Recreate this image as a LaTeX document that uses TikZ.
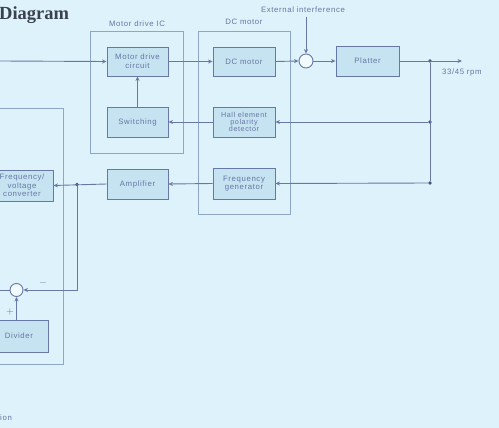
\documentclass[tikz,border=0pt]{standalone}
\usepackage{fontspec}
\setmainfont{Liberation Serif}
\newfontfamily\labfont[LetterSpace=8]{Liberation Sans}
\usetikzlibrary{arrows.meta,positioning}
\definecolor{bgc}{HTML}{DDF2FA}
\definecolor{boxfill}{HTML}{C6E3F1}
\definecolor{linec}{HTML}{6878A4}
\definecolor{outerc}{HTML}{8EA6C8}
\definecolor{txtc}{HTML}{6676A2}
\definecolor{titlec}{HTML}{3A4252}
\tikzset{
  blk/.style={draw=linec, fill=boxfill, line width=0.9pt, minimum width=#1, align=center,
    font=\labfont\fontsize{7.8}{8.6}\selectfont, text=txtc, inner sep=1pt},
  blk/.default=61pt,
  outerbox/.style={draw=outerc, line width=0.9pt},
  con/.style={draw=linec, line width=0.9pt},
  arr/.style={con, -{Stealth[length=4.5pt,width=4pt]}},
  sumc/.style={circle, draw=linec, fill=white!60!bgc, line width=0.9pt, inner sep=0pt, minimum size=#1},
  lab/.style={font=\labfont\fontsize{7.8}{8.6}\selectfont, text=txtc, inner sep=0pt},
  dot/.style={circle, fill=linec!70!black, inner sep=0pt, minimum size=3.6pt}
}
\begin{document}
\begin{tikzpicture}[x=1pt,y=-1pt]
\useasboundingbox (0,0) rectangle (499,428);
\fill[bgc] (0,0) rectangle (499,428);
\clip (0,0) rectangle (499,428);

% title
\node[anchor=west, font=\bfseries\fontsize{18.5}{19}\selectfont, text=titlec, inner sep=0pt] (title) at (-1,15.5) {Diagram};
\node[lab, anchor=west] (ion) at (0,418) {ion};

% outer boxes
\draw[outerbox] (90,31) rectangle (183,153);
\draw[outerbox] (198,31) rectangle (290,214);
\draw[outerbox] (-5,108) rectangle (63,364);
\node[lab] (iclab) at (137,24) {Motor drive IC};
\node[lab] (dclab) at (244,22) {DC motor};

% blocks
\node[blk, minimum height=29pt] (mdc) at (137.5,61.5) {Motor drive\\circuit};
\node[blk, minimum height=30pt] (sw) at (137.5,122) {Switching};
\node[blk=62pt, minimum height=29pt] (dcm) at (244,61.5) {DC motor};
\node[blk=62pt, minimum height=30pt, font=\labfont\fontsize{7.2}{7.4}\selectfont] (hall) at (244,122) {Hall element\\polarity\\detector};
\node[blk=62pt, minimum height=31pt] (fg) at (244,183.5) {Frequency\\generator};
\node[blk, minimum height=30pt] (amp) at (137.5,184) {Amplifier};
\node[blk=62pt, minimum height=31pt] (fv) at (22,185.5) {Frequency/\\voltage\\converter};
\node[blk=63pt, minimum height=30pt] (plat) at (367.5,61) {Platter};
\node[blk=58pt, minimum height=32pt] (div) at (19,336) {Divider};
\node[sumc=14pt] (s1) at (306,61) {};
\node[sumc=13pt] (s2) at (16.5,290) {};

% junctions
\node[dot] (j1) at (430,61) {};
\node[dot] (j2) at (430,122) {};
\node[dot] (j3) at (430,183) {};
\node[dot] (j4) at (77,184.5) {};
\coordinate (in) at (0,61);
\coordinate (out) at (462,61);
\coordinate (ext) at (306,17);
\coordinate (lout) at (0,290);

\node[lab] (extlab) at (303,10) {External interference};
\node[lab, anchor=west] (rpm) at (442,72) {33/45 rpm};
\node[lab, font=\fontsize{10}{10}\selectfont] (minus) at (43,283) {$-$};
\node[lab, font=\fontsize{10}{10}\selectfont] (plus) at (10,312) {$+$};

% connectors
\draw[arr] (in) -- (mdc.west);
\draw[arr] (mdc.east) -- (dcm.west);
\draw[arr] (dcm.east) -- (s1.west);
\draw[arr] (ext) -- (s1.north);
\draw[arr] (s1.east) -- (plat.west);
\draw[arr] (plat.east) -- (out);
\draw[con] (j1) -- (j3);
\draw[arr] (j2) -- (hall.east);
\draw[arr] (hall.west) -- (sw.east);
\draw[arr] (sw.north) -- (mdc.south);
\draw[arr] (j3) -- (fg.east);
\draw[arr] (fg.west) -- (amp.east);
\draw[arr] (amp.west) -- (fv.east);
\draw[arr] (j4) |- (s2.east);
\draw[arr] (s2.south |- div.north) -- (s2.south);
\draw[con] (s2.west) -- (lout);
\end{tikzpicture}
\end{document}
